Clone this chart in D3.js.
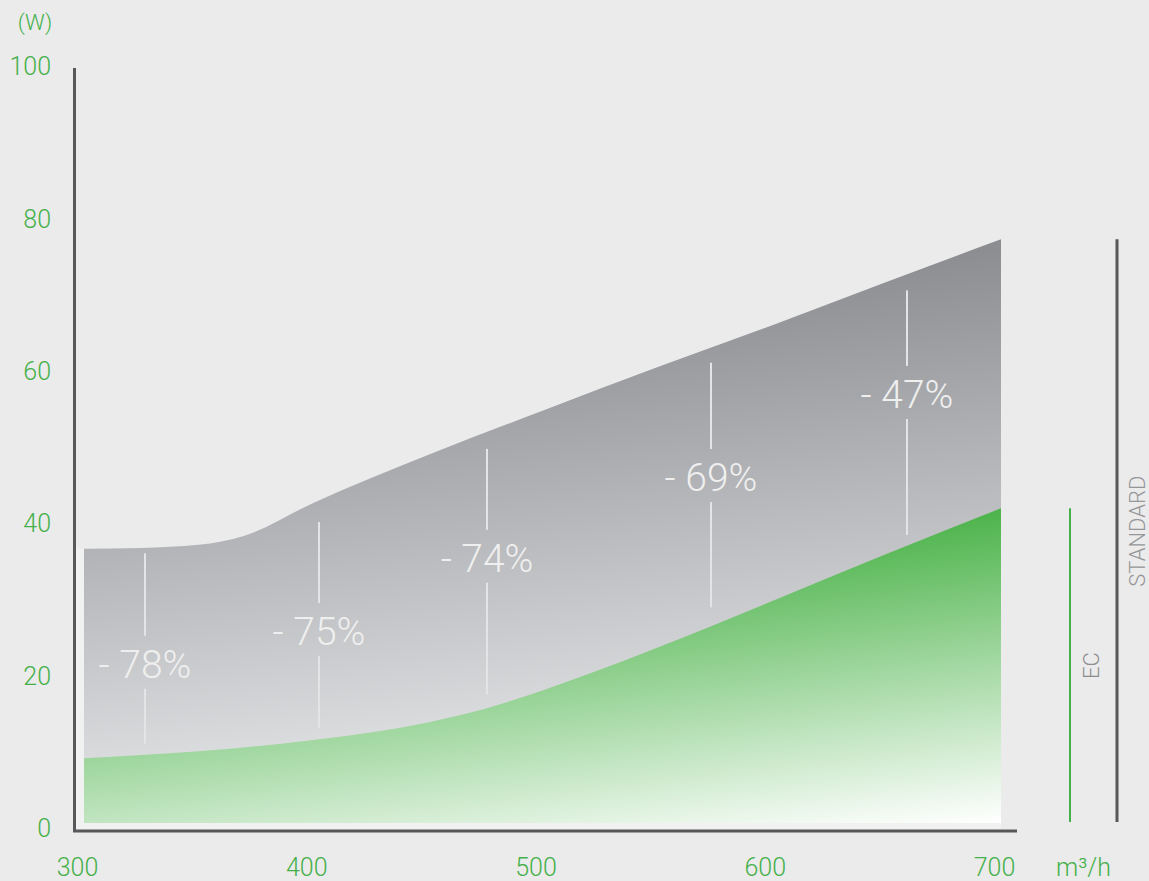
<!DOCTYPE html>
<html lang="en">
    <head>
        <meta charset="utf-8">
        <title>EC vs Standard power</title>
        <script type="text/javascript" src="https://cdn.jsdelivr.net/npm/d3@7"></script>
        <style>
            body { margin: 0; background: #ebebeb; }
            text { font-family: Roboto, "Liberation Sans", sans-serif; font-weight: 300; }
        </style>
    </head>
    <body>
        <script type="text/javascript">
            // Airflow (m3/h) and power (W)
            var flowStd = [300, 325, 350, 370, 400, 450, 500, 550, 600, 650, 700];
            var powerStd = [36.0, 36.1, 36.5, 37.7, 42.0, 48.3, 54.1, 59.8, 65.3, 71.0, 76.6];

            var flowEC = [300, 350, 400, 450, 475, 500, 525, 550, 600, 650, 700];
            var powerEC = [8.5, 9.4, 10.9, 13.2, 15.0, 17.4, 20.1, 23.0, 29.1, 35.3, 41.3];

            // Saving labels: flow, line top, line bottom, label value
            var savingLabels = ["- 78%", "- 75%", "- 74%", "- 69%", "- 47%"];
            var savingFlow = [326.6, 402.5, 475.8, 573.5, 659];
            var savingTop = [35.4, 39.5, 49.1, 60.4, 69.9];
            var savingBottom = [10.4, 12.5, 16.9, 28.3, 37.8];
            var savingMid = [20.9, 25.2, 34.8, 45.4, 56.3];

            var xTicks = [300, 400, 500, 600, 700];
            var yTicks = [0, 20, 40, 60, 80, 100];

            var w = 1149;
            var h = 881;
            var green = "#45b04a";
            var axisGrey = "#58585a";

            var x = d3.scaleLinear().domain([300, 700]).range([84, 1001]);
            var y = d3.scaleLinear().domain([0, 100]).range([823, 61]);

            var svg = d3.select("body")
                        .append("svg")
                        .attr("width", w)
                        .attr("height", h);

            var defs = svg.append("defs");

            var gGrey = defs.append("linearGradient")
                .attr("id", "gradStd")
                .attr("gradientUnits", "userSpaceOnUse")
                .attr("x1", x(700)).attr("y1", y(76.6))
                .attr("x2", x(700) + 50).attr("y2", y(76.6) + 450);
            gGrey.append("stop").attr("offset", 0).attr("stop-color", "#8b8c90");
            gGrey.append("stop").attr("offset", 1).attr("stop-color", "#e0e1e3");

            var gGreen = defs.append("linearGradient")
                .attr("id", "gradEC")
                .attr("gradientUnits", "userSpaceOnUse")
                .attr("x1", x(700)).attr("y1", y(41.3))
                .attr("x2", x(700) + 37).attr("y2", y(41.3) + 310);
            gGreen.append("stop").attr("offset", 0).attr("stop-color", "#4cb34a");
            gGreen.append("stop").attr("offset", 1).attr("stop-color", "#ffffff");

            // light band round the plot
            svg.append("rect")
                .attr("x", 76).attr("y", y(powerStd[0]))
                .attr("width", x(700) - 76).attr("height", 829.5 - y(powerStd[0]))
                .attr("fill", "#f1f1f1");

            // Areas
            var stdData = flowStd.map(function(d, i) { return [d, powerStd[i]]; });
            var ecData = flowEC.map(function(d, i) { return [d, powerEC[i]]; });

            var area = d3.area()
                .x(function(d) { return x(d[0]); })
                .y0(y(0))
                .y1(function(d) { return y(d[1]); })
                .curve(d3.curveMonotoneX);

            svg.append("path")
                .datum(stdData)
                .attr("d", area)
                .attr("fill", "url(#gradStd)");

            svg.append("path")
                .datum(ecData)
                .attr("d", area)
                .attr("fill", "url(#gradEC)");

            // Saving markers
            var sav = svg.selectAll("g.saving")
                .data(savingLabels)
                .enter()
                .append("g")
                .attr("class", "saving");

            sav.append("line")
                .attr("x1", function(d, i) { return x(savingFlow[i]); })
                .attr("x2", function(d, i) { return x(savingFlow[i]); })
                .attr("y1", function(d, i) { return y(savingTop[i]); })
                .attr("y2", function(d, i) { return y(savingMid[i]) - 28; })
                .attr("stroke", "#e4e4e6")
                .attr("stroke-width", 2);

            sav.append("line")
                .attr("x1", function(d, i) { return x(savingFlow[i]); })
                .attr("x2", function(d, i) { return x(savingFlow[i]); })
                .attr("y1", function(d, i) { return y(savingMid[i]) + 25; })
                .attr("y2", function(d, i) { return y(savingBottom[i]); })
                .attr("stroke", "#e4e4e6")
                .attr("stroke-width", 2);

            sav.append("text")
                .attr("x", function(d, i) { return x(savingFlow[i]); })
                .attr("y", function(d, i) { return y(savingMid[i]); })
                .attr("dy", "0.36em")
                .attr("text-anchor", "middle")
                .attr("fill", "#efefef")
                .style("font-size", "39px")
                .text(function(d) { return d; });

            // Axes
            var yAxis = d3.axisLeft(y).tickValues(yTicks).tickSize(0).tickPadding(23);
            svg.append("g")
                .attr("transform", "translate(74,0)")
                .call(yAxis)
                .call(function(g) { g.select(".domain").remove(); })
                .selectAll("text")
                .attr("y", 5)
                .attr("dy", "0.35em")
                .attr("fill", green)
                .style("font-size", "25px")
                .style("font-family", "Roboto, 'Liberation Sans', sans-serif");

            var xAxis = d3.axisBottom(x).tickValues(xTicks).tickSize(0);
            svg.append("g")
                .attr("transform", "translate(0,831)")
                .call(xAxis)
                .call(function(g) { g.select(".domain").remove(); })
                .selectAll("text")
                .attr("x", -7)
                .attr("y", 36)
                .attr("dy", "0.35em")
                .attr("fill", green)
                .style("font-size", "25px")
                .style("font-family", "Roboto, 'Liberation Sans', sans-serif");

            svg.append("line")
                .attr("x1", 74.5).attr("x2", 74.5)
                .attr("y1", 68).attr("y2", 832)
                .attr("stroke", axisGrey).attr("stroke-width", 3);
            svg.append("line")
                .attr("x1", 73).attr("x2", 1017)
                .attr("y1", 831).attr("y2", 831)
                .attr("stroke", axisGrey).attr("stroke-width", 3);

            svg.append("text")
                .attr("x", 35).attr("y", 22)
                .attr("dy", "0.35em")
                .attr("text-anchor", "middle")
                .attr("fill", green)
                .style("font-size", "22px")
                .text("(W)");

            svg.append("text")
                .attr("x", 1056).attr("y", 867)
                .attr("dy", "0.35em")
                .attr("fill", green)
                .style("font-size", "25px")
                .text("m³/h");

            // Range bars on the right
            svg.append("line")
                .attr("x1", 1070).attr("x2", 1070)
                .attr("y1", y(d3.max(powerEC))).attr("y2", y(0) - 1)
                .attr("stroke", green).attr("stroke-width", 2);
            svg.append("line")
                .attr("x1", 1117).attr("x2", 1117)
                .attr("y1", y(d3.max(powerStd))).attr("y2", y(0) - 1)
                .attr("stroke", axisGrey).attr("stroke-width", 3);

            svg.append("text")
                .attr("transform", "translate(1091," + ((y(d3.max(powerEC)) + y(0)) / 2) + ") rotate(-90)")
                .attr("text-anchor", "middle")
                .attr("dy", "0.35em")
                .attr("fill", "#8c8c8e")
                .style("font-size", "22px")
                .text("EC");
            svg.append("text")
                .attr("transform", "translate(1137," + ((y(d3.max(powerStd)) + y(0)) / 2) + ") rotate(-90)")
                .attr("text-anchor", "middle")
                .attr("dy", "0.35em")
                .attr("fill", "#969698")
                .style("font-size", "22px")
                .text("STANDARD");
        </script>
    </body>
</html>
